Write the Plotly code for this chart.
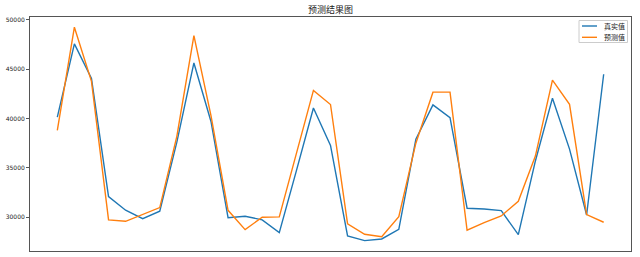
import plotly.graph_objects as go

x_index = list(range(33))
true_values = [40150, 47560, 44070, 32090, 30710, 29860, 30610, 37600, 45630, 39700,
               29950, 30100, 29730, 28440, 34700, 41060, 37270, 28100, 27630, 27800,
               28780, 37900, 41380, 40080, 30910, 30840, 30670, 28230, 35700, 42060,
               36900, 30230, 44480]
pred_values = [38790, 49250, 43770, 29730, 29590, 30250, 30980, 38200, 48400, 40300,
               30700, 28740, 30000, 30030, 36300, 42850, 41420, 29320, 28270, 28030,
               30060, 37500, 42670, 42670, 28680, 29450, 30130, 31620, 36200, 43890,
               41440, 30270, 29490]
y_ticks = [30000, 35000, 40000, 45000, 50000]
series_names = ["真实值", "预测值"]
series_colors = ["#1f77b4", "#ff7f0e"]
title_text = "预测结果图"

W, H = 640, 257
ML, MR, MT, MB = 30, 9, 17, 6
PW, PH = W - ML - MR, H - MT - MB


def px(xp):
    return (xp - ML) / PW


def py(yp):
    return 1 - (yp - MT) / PH


fig = go.Figure()
for name, vals, col in zip(series_names, [true_values, pred_values], series_colors):
    fig.add_trace(go.Scatter(x=x_index, y=vals, mode="lines", name=name,
                             line=dict(color=col, width=1.4), showlegend=False))

# manual matplotlib-style legend
shapes = [dict(type="rect", xref="paper", yref="paper",
               x0=px(579), x1=px(627.5), y0=py(42.5), y1=py(20.5),
               line=dict(color="#cccccc", width=1), fillcolor="rgba(255,255,255,0.8)",
               layer="above")]
annotations = []
for i, (name, col) in enumerate(zip(series_names, series_colors)):
    yy = 26 + i * 11.3
    shapes.append(dict(type="line", xref="paper", yref="paper",
                       x0=px(582), x1=px(597), y0=py(yy), y1=py(yy),
                       line=dict(color=col, width=1.4), layer="above"))
    annotations.append(dict(xref="paper", yref="paper", x=px(602), y=py(yy),
                            xanchor="left", yanchor="middle", showarrow=False,
                            text=name, font=dict(family="Noto Sans CJK SC", size=7, color="#222")))

fig.update_layout(
    width=W, height=H,
    margin=dict(l=ML, r=MR, t=MT, b=MB),
    paper_bgcolor="white", plot_bgcolor="white",
    title=dict(text=title_text, x=(ML + PW / 2) / W, xanchor="center",
               y=1 - 10 / H, yanchor="middle",
               font=dict(family="Noto Sans CJK SC", size=9, color="#222")),
    showlegend=False,
    shapes=shapes,
    annotations=annotations,
    xaxis=dict(range=[-1.6, 33.6], showgrid=False, zeroline=False,
               showticklabels=False, ticks="", showline=True, linecolor="#555",
               linewidth=1, mirror=True),
    yaxis=dict(range=[26579, 50284], tickvals=y_ticks, ticktext=[str(v) for v in y_ticks],
               showgrid=False, zeroline=False, ticks="outside", ticklen=3, tickwidth=1,
               tickcolor="#555", showline=True, linecolor="#555", linewidth=1, mirror=True,
               tickfont=dict(family="DejaVu Sans", size=6, color="#222")),
)

fig.write_html("out.html")
